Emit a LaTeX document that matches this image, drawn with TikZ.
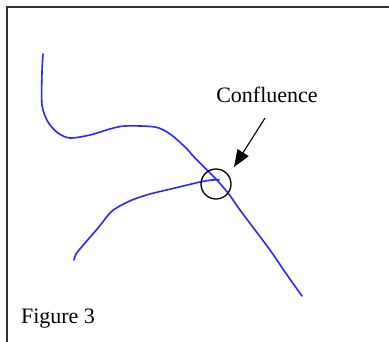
\documentclass[tikz,border=0pt]{standalone}
\usepackage{fontspec}
\setmainfont{Liberation Serif}
\usetikzlibrary{arrows.meta}
\begin{document}
\begin{tikzpicture}[x=1pt,y=-1pt,
  river/.style={draw={rgb,255:red,40;green,40;blue,255}, line width=1.6pt, smooth, line join=round, line cap=round},
  lbl/.style={font=\fontsize{22}{26}\selectfont, inner sep=0pt},
  pointer/.style={draw=black, line width=1.1pt, -{Triangle[length=17pt,width=13pt]}},
  ring/.style={draw=black, line width=1.3pt, circle, minimum size=30pt, inner sep=0pt}]
\useasboundingbox (0,0) rectangle (389,341);
\fill[white] (0,0) rectangle (389,341);
\draw[line width=2.4pt, draw={rgb,255:red,50;green,50;blue,50}] (7,345) -- (7,7) -- (392,7);
\draw[river] plot coordinates {(43,54) (42,72) (42,105) (48,122) (58,133) (70,138) (90,135) (110,129) (125,126) (155,127) (170,134) (185,147) (195,158) (205,168) (215,178) (228,193) (240,210) (255,230) (270,250) (285,272) (302,296)};
\draw[river] plot coordinates {(74,260) (76,254) (85,243) (98,228) (110,213) (118,207) (132,200) (150,194) (175,188) (200,182) (212,180) (219,180)};
\node[ring] (conf) at (216,184) {};
\node[lbl] (label) at (267,95) {Confluence};
\coordinate (tail) at (265,118);
\coordinate (tip) at (234,167);
\draw[pointer] (tail) -- (tip);
\node[lbl] (fig) at (58,319) {Figure 3};
\end{tikzpicture}
\end{document}
